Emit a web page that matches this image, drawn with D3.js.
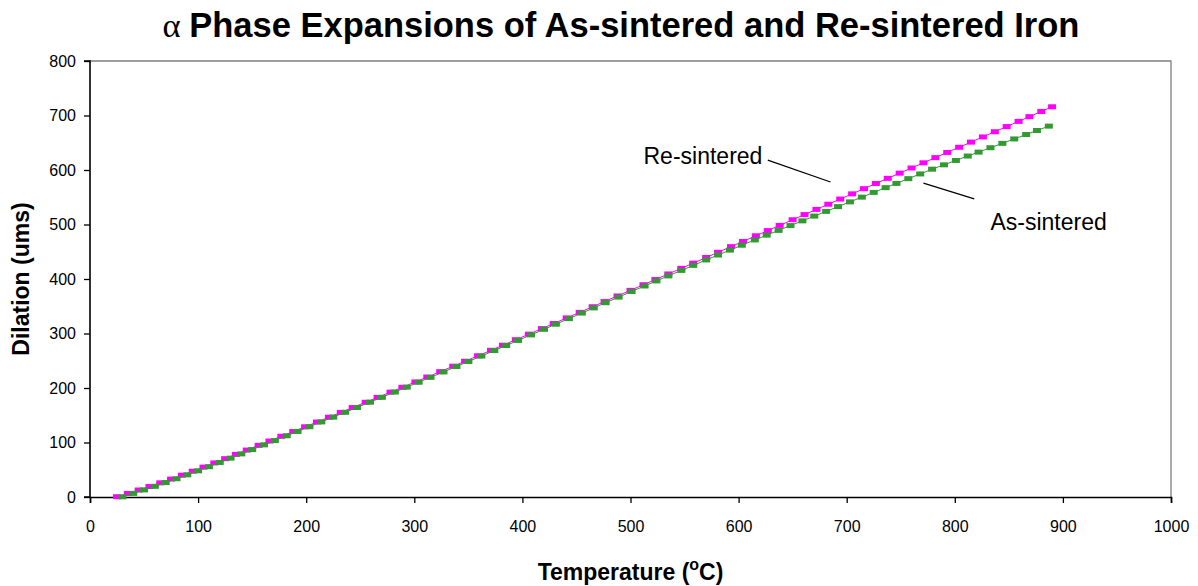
<!DOCTYPE html>
<html>
<head>
<meta charset="utf-8">
<script src="https://cdn.jsdelivr.net/npm/d3@7"></script>
<style>
  body { margin: 0; background: #fff; }
  text { font-family: Arial, "Liberation Sans", sans-serif; fill: #000; }
</style>
</head>
<body>
<div id="canvas"></div>
<script>
/* Data */
const reTemp = [25, 35, 45, 55, 65, 75, 85, 95, 105, 115, 125, 135, 145, 156, 166, 177, 188, 199, 210, 221,
  232, 243, 255, 266, 278, 289, 301, 312, 324, 336, 347, 359, 371, 382, 394, 406, 418, 429, 441, 453,
  465, 476, 488, 500, 512, 523, 535, 547, 558, 570, 581, 593, 604, 616, 627, 638, 650, 661, 672, 683,
  694, 705, 716, 727, 738, 749, 760, 771, 782, 793, 804, 815, 826, 837, 848, 859, 869, 880, 890]
const reDilation = [0.5, 6.5, 12.8, 19.2, 26.0, 32.9, 40.0, 47.3, 54.8, 62.5, 70.3, 78.2, 86.1, 94.8, 102.7, 111.4, 120.1, 128.8, 137.6, 146.4,
  155.2, 164.1, 173.8, 182.7, 192.4, 201.3, 211.1, 220.1, 230.0, 240.0, 249.1, 259.1, 269.2, 278.5, 288.6, 298.8, 309.0, 318.4, 328.6, 338.8,
  349.1, 358.6, 368.9, 379.2, 389.5, 399.0, 409.3, 419.6, 429.1, 439.5, 449.0, 459.4, 468.9, 479.3, 488.8, 498.3, 508.7, 518.2, 527.7, 537.2,
  546.7, 556.2, 565.7, 575.2, 584.7, 594.2, 603.7, 613.2, 622.7, 632.2, 641.7, 651.2, 660.7, 670.2, 679.7, 689.2, 697.9, 707.4, 716.0]

const asTemp = [30, 40, 50, 60, 70, 80, 90, 100, 110, 120, 130, 140, 150, 161, 171, 182, 192, 203, 214, 225,
  236, 247, 259, 270, 282, 293, 304, 315, 327, 339, 350, 362, 374, 385, 396, 408, 420, 431, 443, 455,
  466, 477, 489, 501, 513, 524, 535, 547, 558, 570, 581, 592, 603, 615, 626, 637, 648, 659, 670, 681,
  692, 703, 714, 725, 736, 746, 757, 768, 779, 790, 801, 812, 822, 833, 844, 855, 866, 876, 887]
const asDilation = [0.3, 6.6, 13.0, 19.6, 26.5, 33.5, 40.7, 48.0, 55.6, 63.4, 71.3, 79.1, 87.0, 95.7, 103.6, 112.4, 120.3, 129.0, 137.8, 146.6,
  155.4, 164.3, 174.0, 182.9, 192.6, 201.6, 210.6, 219.6, 229.5, 239.5, 248.6, 258.6, 268.7, 278.0, 287.3, 297.5, 307.7, 317.1, 327.3, 337.5,
  347.0, 356.5, 366.8, 377.1, 387.2, 396.5, 405.7, 415.8, 425.0, 435.0, 444.0, 453.0, 462.0, 471.7, 480.5, 489.2, 498.0, 506.7, 515.4, 524.1,
  532.8, 541.5, 550.2, 558.9, 567.6, 575.4, 584.1, 592.8, 601.5, 609.5, 617.5, 625.6, 632.8, 640.9, 648.9, 657.0, 665.1, 672.5, 680.5]

const xTicks = [0, 100, 200, 300, 400, 500, 600, 700, 800, 900, 1000]
const yTicks = [0, 100, 200, 300, 400, 500, 600, 700, 800]

// callout labels: text anchor point and leader line, in data units
const labels = [
  {text: "Re-sintered", anchor: "end", tx: 622, ty: 626, x1: 627, y1: 618, x2: 685, y2: 578},
  {text: "As-sintered", anchor: "start", tx: 833, ty: 504, x1: 771, y1: 576, x2: 818, y2: 547}
]

/* Layout */
const WIDTH = 1198
const HEIGHT = 586
const PLOT = {"LEFT": 90, "RIGHT": 1171, "TOP": 61, "BOTTOM": 497}
const COLORS = {"RE": "#FF00FF", "AS": "#339933"}
const MARKER = {"W": 8, "H": 5}

const svg = d3.select("#canvas")
              .append("svg")
              .attr("width", WIDTH)
              .attr("height", HEIGHT);

const x = d3.scaleLinear().domain([0, 1000]).range([PLOT.LEFT, PLOT.RIGHT]);
const y = d3.scaleLinear().domain([0, 800]).range([PLOT.BOTTOM, PLOT.TOP]);

// frame (top & right)
svg.append("path")
   .attr("d", `M${PLOT.LEFT},${PLOT.TOP}H${PLOT.RIGHT}V${PLOT.BOTTOM}`)
   .attr("fill", "none")
   .attr("stroke", "#7f7f7f")
   .attr("stroke-width", 1.3);

const xAxis = d3.axisBottom(x).tickValues(xTicks).tickSize(6).tickPadding(18).tickFormat(d3.format("d"));
const gx = svg.append("g")
   .attr("transform", "translate(0," + PLOT.BOTTOM + ")")
   .call(xAxis);
const yAxis = d3.axisLeft(y).tickValues(yTicks).tickSize(6).tickPadding(8).tickFormat(d3.format("d"));
const gy = svg.append("g")
   .attr("transform", "translate(" + PLOT.LEFT + ",0)")
   .call(yAxis);
[gx, gy].forEach((g) => {
  g.select(".domain").attr("stroke", "#000").attr("stroke-width", 1.6);
  g.selectAll(".tick line").attr("stroke", "#000").attr("stroke-width", 1.3);
  g.selectAll(".tick text").style("font-size", "16px").attr("fill", "#000")
   .style("font-family", "Arial, 'Liberation Sans', sans-serif");
});
gy.select(".domain").attr("d", `M-6,${PLOT.TOP}H0V${PLOT.BOTTOM}H-6`);

// series
const series = [
  {name: "re", temp: reTemp, dil: reDilation, color: COLORS.RE},
  {name: "as", temp: asTemp, dil: asDilation, color: COLORS.AS}
];
const line = d3.line().x((d) => x(d[0])).y((d) => y(d[1]));
series.forEach((s) => {
  const pts = s.temp.map((t, i) => [t, s.dil[i]]);
  svg.append("path")
     .datum(pts)
     .attr("d", line)
     .attr("fill", "none")
     .attr("stroke", s.color)
     .attr("stroke-width", 1);
  svg.append("g")
     .selectAll("rect")
     .data(pts)
     .enter()
     .append("rect")
     .attr("x", (d) => x(d[0]) - MARKER.W / 2)
     .attr("y", (d) => y(d[1]) - MARKER.H / 2)
     .attr("width", MARKER.W)
     .attr("height", MARKER.H)
     .attr("fill", s.color);
});

// callouts
labels.forEach((l) => {
  svg.append("line")
     .attr("x1", x(l.x1)).attr("y1", y(l.y1))
     .attr("x2", x(l.x2)).attr("y2", y(l.y2))
     .attr("stroke", "#000")
     .attr("stroke-width", 1.2);
  svg.append("text")
     .attr("x", x(l.tx))
     .attr("y", y(l.ty))
     .attr("dy", "0.35em")
     .attr("text-anchor", l.anchor)
     .style("font-size", "23px")
     .text(l.text);
});

// titles
const title = svg.append("text")
   .attr("x", 621)
   .attr("y", 37)
   .attr("text-anchor", "middle")
   .style("font-size", "34.5px")
   .style("font-weight", "bold");
title.append("tspan").style("font-family", "'Liberation Serif', 'DejaVu Serif', serif").style("font-weight", "normal").text("α ");
title.append("tspan").text("Phase Expansions of As-sintered and Re-sintered Iron");

const xTitle = svg.append("text")
   .attr("x", (PLOT.LEFT + PLOT.RIGHT) / 2)
   .attr("y", 580)
   .attr("text-anchor", "middle")
   .style("font-size", "23px")
   .style("font-weight", "bold");
xTitle.append("tspan").text("Temperature (");
xTitle.append("tspan").attr("dy", -10).style("font-size", "16px").text("o");
xTitle.append("tspan").attr("dy", 10).text("C)");

svg.append("text")
   .attr("transform", "translate(29," + (PLOT.TOP + PLOT.BOTTOM) / 2 + ") rotate(-90)")
   .attr("text-anchor", "middle")
   .style("font-size", "23px")
   .style("font-weight", "bold")
   .text("Dilation (ums)");
</script>
</body>
</html>
